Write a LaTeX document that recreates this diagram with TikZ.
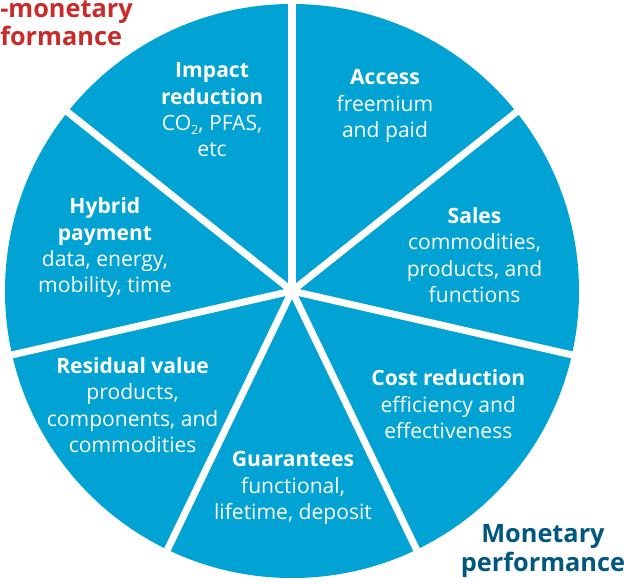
\documentclass[tikz,border=0pt]{standalone}
\usepackage{fontspec}
\setmainfont{Open Sans}
\definecolor{pieblue}{HTML}{00A3D3}
\definecolor{monblue}{HTML}{00577F}
\definecolor{nonred}{HTML}{C92A2A}
\newcommand{\lowtwo}{\raisebox{-0.35ex}{\fontsize{9}{9}\selectfont 2}}
\tikzset{
    slice label/.style={align=center, text=white, inner sep=0pt,
      font=\fontsize{15}{18.8}\selectfont},
    side label/.style={align=center, inner sep=0pt,
      font=\bfseries\fontsize{18}{20}\selectfont},
  }
\begin{document}
\begin{tikzpicture}[x=0.025cm,y=0.025cm]
          \useasboundingbox (-292,-293) rectangle (332,291);

          %PIE
          \coordinate (O) at (0,0);
          \fill[pieblue] (O) circle (287);

          %GAPS between the seven slices
          \foreach \i in {0,...,6}
            \draw[white, line width=0.175cm] (O) -- ({90-\i*360/7}:300);

          %SLICE LABELS
          \node[slice label] (impact) at (113.8:198) {\textbf{Impact}\\\textbf{reduction}\\CO\lowtwo, PFAS,\\etc};
          \node[slice label] (access) at (63.3:207) {\textbf{Access}\\freemium\\and paid};
          \node[slice label] (sales) at (11.1:186) {\textbf{Sales}\\commodities,\\products, and\\functions};
          \node[slice label] (cost) at (-35.9:193) {\textbf{Cost reduction}\\efficiency and\\effectiveness};
          \node[slice label] (guarantees) at (-89.7:197) {\textbf{Guarantees}\\functional,\\lifetime, deposit};
          \node[slice label] (residual) at (-144.4:196) {\textbf{Residual value}\\products,\\components, and\\commodities};
          \node[slice label] (hybrid) at (167:192) {\textbf{Hybrid}\\\textbf{payment}\\data, energy,\\mobility, time};

          %SIDE LABELS
          \node[side label, text=monblue] (monetary) at (251,-260) {Monetary\\performance};
          \node[side label, text=nonred, anchor=west, align=left] (nonmonetary) at (-292,268) {-monetary\\formance};
\end{tikzpicture}
\end{document}
